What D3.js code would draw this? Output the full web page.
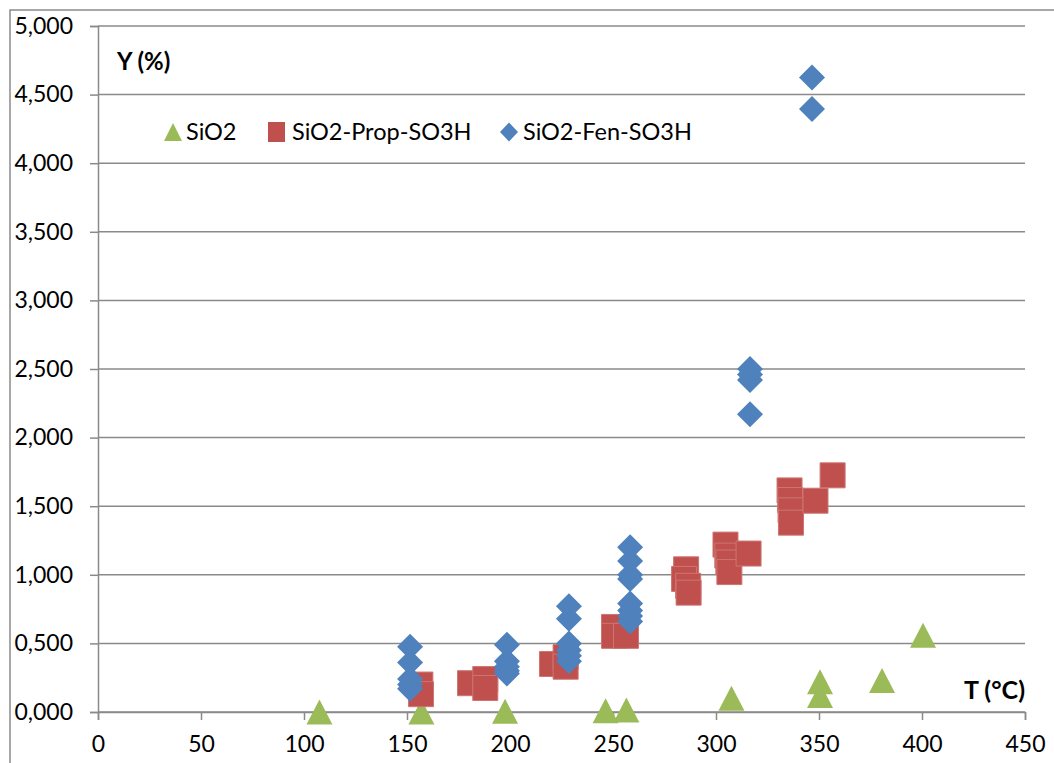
<!DOCTYPE html>
<html><head><meta charset="utf-8">
<script src="https://cdn.jsdelivr.net/npm/d3@7"></script>
<style>body{margin:0;background:#fff}svg{display:block}</style>
</head><body>
<svg id="c" width="1054" height="763"></svg>
<script>
const xTicks = [0,50,100,150,200,250,300,350,400,450];
const yTicks = [0,0.5,1,1.5,2,2.5,3,3.5,4,4.5,5];
const seriesNames = ["SiO2","SiO2-Prop-SO3H","SiO2-Fen-SO3H"];
const sio2 = [[107.5,0],[157,0],[197.6,0.005],[246.4,0.01],[256.5,0.015],[307.5,0.1],[350.5,0.12],[350.5,0.22],[380.6,0.23],[400.5,0.56]];
const prop = [[156.5,0.20],[156.8,0.13],[180.6,0.21],[188,0.24],[188,0.175],[220.4,0.35],[227,0.40],[227,0.33],[250.5,0.62],[250.5,0.555],[256.3,0.555],
  [285.5,1.04],[284.5,0.97],[286.5,0.92],[286.7,0.87],[304.6,1.22],[305.5,1.14],[306,1.09],[306.5,1.02],[315.8,1.155],
  [335.7,1.615],[336,1.545],[336.2,1.47],[336.4,1.38],[348.3,1.54],[356.6,1.725]];
const fen = [[151.5,0.475],[151.5,0.36],[151.5,0.24],[151.5,0.20],[151.5,0.17],
  [198.5,0.49],[198.5,0.37],[198.5,0.33],[198.5,0.30],[198.5,0.28],
  [228.6,0.77],[228.6,0.68],[228.6,0.50],[228.6,0.45],[228.6,0.41],[228.6,0.37],
  [258.3,1.20],[258.3,1.10],[258.3,1.00],[258.3,0.97],[258.3,0.79],[258.3,0.74],[258.3,0.70],[258.3,0.66],
  [316.5,2.50],[316.5,2.46],[316.5,2.42],[316.5,2.17],[346.6,4.625],[346.6,4.395]];

const svg = d3.select("#c");
const FONT = "Lato, 'Open Sans', sans-serif";
const x = d3.scaleLinear().domain([0,450]).range([98,1025]);
const y = d3.scaleLinear().domain([0,5]).range([712,26]);
const grey = "#8a8a8a";

// outer border
svg.append("path").attr("d","M10,770 L10,10 L1060,10").attr("fill","none").attr("stroke",grey).attr("stroke-width",1.5);

// gridlines
svg.append("g").selectAll("line").data(yTicks).join("line")
  .attr("x1",x(0)).attr("x2",x(450)).attr("y1",d=>y(d)).attr("y2",d=>y(d))
  .attr("stroke",grey).attr("stroke-width",1.5);

// y axis
const yAxis = d3.axisLeft(y).tickValues(yTicks).tickSize(8).tickPadding(17)
  .tickFormat(d=>d3.format(".3f")(d).replace(".", ","));
const ga = svg.append("g").attr("transform",`translate(${x(0)},0)`).call(yAxis);
ga.select(".domain").attr("stroke",grey).attr("stroke-width",1.5);
ga.selectAll(".tick line").attr("stroke",grey).attr("stroke-width",1.5);
ga.selectAll("text").attr("font-family",FONT).attr("font-size",23).attr("fill","#000");

// x axis
const xAxis = d3.axisBottom(x).tickValues(xTicks).tickSize(8).tickPadding(16);
const gx = svg.append("g").attr("transform",`translate(0,${y(0)})`).call(xAxis);
gx.select(".domain").attr("stroke",grey).attr("stroke-width",1.5);
gx.selectAll(".tick line").attr("stroke",grey).attr("stroke-width",1.5);
gx.selectAll("text").attr("font-family",FONT).attr("font-size",23).attr("fill","#000");

// markers
const tri = (cx,cy)=>`M${cx},${cy-12.5}L${cx+13},${cy+12.5}L${cx-13},${cy+12.5}Z`;
const sq = (cx,cy)=>`M${cx-12.5},${cy-12.5}h25v25h-25Z`;
const dia = (cx,cy)=>`M${cx},${cy-13}L${cx+13},${cy}L${cx},${cy+13}L${cx-13},${cy}Z`;

svg.append("g").selectAll("path").data(sio2).join("path")
  .attr("d",d=>tri(x(d[0]),y(d[1]))).attr("fill","#9BBB59");
svg.append("g").selectAll("path").data(prop).join("path")
  .attr("d",d=>sq(x(d[0]),y(d[1]))).attr("fill","#C0504D").attr("stroke","#CD7572").attr("stroke-width",1);
svg.append("g").selectAll("path").data(fen).join("path")
  .attr("d",d=>dia(x(d[0]),y(d[1]))).attr("fill","#4F81BD");

// axis titles
svg.append("text").attr("x",117).attr("y",62).attr("dy","0.35em").attr("font-family",FONT)
  .attr("font-weight","bold").attr("font-size",24).text("Y (%)");
svg.append("text").attr("x",1025).attr("y",690).attr("dy","0.35em").attr("text-anchor","end").attr("font-family",FONT)
  .attr("font-weight","bold").attr("font-size",25).text("T (°C)");

// legend
const leg = svg.append("g");
const legItems = [
  {name:seriesNames[0], mx:173, tx:186, f:(a,b)=>`M${a},${b-9}L${a+9},${b+9}L${a-9},${b+9}Z`, c:"#9BBB59"},
  {name:seriesNames[1], mx:276.5, tx:292, f:(a,b)=>`M${a-8.5},${b-10}h17v20h-17Z`, c:"#C0504D"},
  {name:seriesNames[2], mx:509, tx:523, f:(a,b)=>`M${a},${b-9.5}L${a+9},${b}L${a},${b+9.5}L${a-9},${b}Z`, c:"#4F81BD"}
];
const ly = 132;
legItems.forEach(it=>{
  leg.append("path").attr("d",it.f(it.mx,ly)).attr("fill",it.c);
  leg.append("text").attr("x",it.tx).attr("y",ly).attr("dy","0.35em").attr("font-family",FONT)
    .attr("font-size",23.5).text(it.name);
});
</script>
</body></html>
